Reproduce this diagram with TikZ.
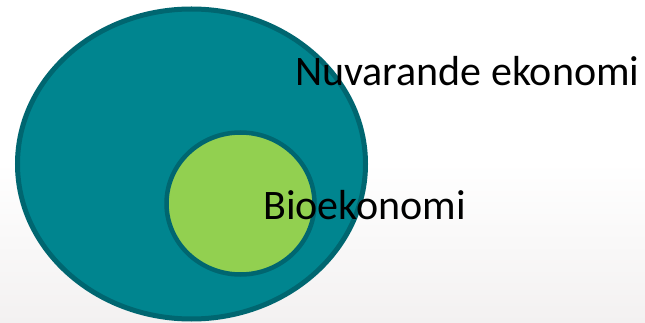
\documentclass[tikz,border=0pt]{standalone}
\usepackage{fontspec}
\setmainfont{Carlito}
\definecolor{tealfill}{HTML}{00858F}
\definecolor{tealedge}{HTML}{006670}
\definecolor{biogreen}{HTML}{92D050}
\definecolor{bgbottom}{HTML}{F3F1F1}
\tikzset{
  circ/.style={draw=tealedge, line width=5pt},
  lbl/.style={anchor=base west, inner sep=0pt, font=\fontsize{42}{42}\selectfont, text=black}
}
\begin{document}
\begin{tikzpicture}[x=1pt,y=-1pt]
\useasboundingbox (0,0) rectangle (645,323);
\shade[top color=white, bottom color=bgbottom, middle color=white] (0,0) rectangle (645,323);
\begin{scope}
\clip (0,0) rectangle (645,323);
\draw[circ, fill=tealfill] (191.5,164) ellipse [x radius=174, y radius=155];
\draw[circ, line width=4.5pt, fill=biogreen] (240.5,203.5) ellipse [x radius=74, y radius=71];
\end{scope}
\node[lbl] (nu) at (295,86) {Nuvarande ekonomi};
\node[lbl] (bio) at (263,219) {Bioekonomi};
\end{tikzpicture}
\end{document}
